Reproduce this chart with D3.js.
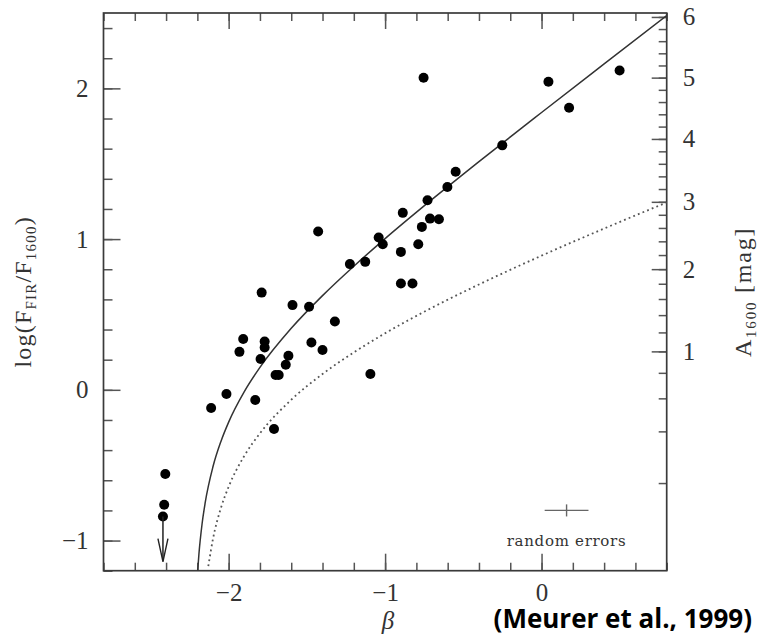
<!DOCTYPE html>
<html>
<head>
<meta charset="utf-8">
<script src="https://cdn.jsdelivr.net/npm/d3@7"></script>
<style>
body { margin: 0; background: #fff; }
</style>
</head>
<body>
<div id="chart"></div>
<script>
// observed galaxies: UV slope beta vs log(F_FIR/F_1600)
var obsBeta = [-2.405, -2.412, -2.112, -2.014, -1.931, -1.907, -1.830, -1.796, -1.789, -1.770, -1.770,
  -1.710, -1.700, -1.680, -1.635, -1.618, -1.592, -1.486, -1.471, -1.428, -1.400, -1.321, -1.225,
  -1.127, -1.094, -1.041, -1.015, -0.899, -0.899, -0.887, -0.825, -0.788, -0.765, -0.754, -0.729,
  -0.713, -0.656, -0.602, -0.549, -0.251, 0.044, 0.176, 0.499];
var obsIrx = [-0.558, -0.763, -0.121, -0.028, 0.252, 0.337, -0.068, 0.204, 0.645, 0.321, 0.281,
  -0.260, 0.098, 0.098, 0.166, 0.226, 0.562, 0.551, 0.314, 1.050, 0.264, 0.453, 0.834,
  0.849, 0.105, 1.010, 0.966, 0.915, 0.705, 1.174, 0.705, 0.966, 1.081, 2.070, 1.258,
  1.136, 1.132, 1.346, 1.447, 1.622, 2.044, 1.871, 2.119];

// upper limit point (arrow)
var limitBeta = [-2.420];
var limitIrx = [-0.841];

// fitted relation (solid)
var fitBeta = [-2.198, -2.19, -2.17, -2.15, -2.1, -2.05, -2.0, -1.9, -1.8, -1.6, -1.4, -1.2, -1.0, -0.7, -0.4, 0, 0.4, 0.8];
var fitIrx = [-1.201, -1.089, -0.890, -0.749, -0.509, -0.344, -0.214, -0.012, 0.149, 0.408, 0.625, 0.820, 1.003, 1.263, 1.514, 1.840, 2.162, 2.483];

// second relation (dotted)
var dotBeta = [-2.13, -2.1, -2.05, -2.0, -1.9, -1.8, -1.6, -1.4, -1.2, -1.0, -0.7, -0.4, 0, 0.4, 0.8];
var dotIrx = [-1.170, -0.988, -0.786, -0.643, -0.438, -0.289, -0.066, 0.105, 0.248, 0.375, 0.545, 0.699, 0.890, 1.070, 1.243];

// random errors marker
var errCenter = [0.16, -0.80];
var errSize = [0.14, 0.04];

// ticks
var xMajor = [-2, -1, 0];
var yMajor = [-1, 0, 1, 2];
var aMajor = [1, 2, 3, 4, 5, 6];

function drawChart() {

  var width = 763, height = 637;
  var pLeft = 103.5, pRight = 666.7, pTop = 13, pBottom = 570.7;

  var svg = d3.select("#chart").append("svg")
    .attr("width", width)
    .attr("height", height);

  var xScale = d3.scaleLinear().domain([-2.8, 0.8]).range([pLeft, pRight]);
  var yScale = d3.scaleLinear().domain([-1.2, 2.5]).range([pBottom, pTop]);

  // A_1600 (mag) -> log(F_FIR/F_1600)
  function aToIrx(a) { return Math.log10((Math.pow(10, 0.4 * a) - 1) * 1.19); }

  var xMinor = d3.range(-2.8, 0.81, 0.2).map(function(d) { return +d.toFixed(1); });
  var yMinor = d3.range(-1.2, 2.51, 0.2).map(function(d) { return +d.toFixed(1); });
  var aMinor = d3.range(0.2, 6.01, 0.2).map(function(d) { return +d.toFixed(1); });

  var tickCol = "#555", lineCol = "#3a3a3a";
  var serif = "'Liberation Serif', 'Times New Roman', serif";

  function styleAxis(g) {
    g.select(".domain").remove();
    g.selectAll("line").attr("stroke", tickCol).attr("stroke-width", 1.5);
    g.selectAll("text").attr("font-family", serif).attr("font-size", 25).attr("fill", "#333");
  }

  //Bottom axis
  svg.append("g").attr("transform", "translate(0," + pBottom + ")")
    .call(d3.axisBottom(xScale).tickValues(xMinor).tickSizeInner(-8).tickSizeOuter(0).tickFormat(""))
    .call(styleAxis);
  svg.append("g").attr("transform", "translate(0," + pBottom + ")")
    .call(d3.axisBottom(xScale).tickValues(xMajor).tickSizeInner(-17).tickSizeOuter(0).tickPadding(13).tickFormat(d3.format("d")))
    .call(styleAxis);

  //Top axis
  svg.append("g").attr("transform", "translate(0," + pTop + ")")
    .call(d3.axisTop(xScale).tickValues(xMinor).tickSizeInner(-8).tickSizeOuter(0).tickFormat(""))
    .call(styleAxis);
  svg.append("g").attr("transform", "translate(0," + pTop + ")")
    .call(d3.axisTop(xScale).tickValues(xMajor).tickSizeInner(-16).tickSizeOuter(0).tickFormat(""))
    .call(styleAxis);

  //Left axis
  svg.append("g").attr("transform", "translate(" + pLeft + ",0)")
    .call(d3.axisLeft(yScale).tickValues(yMinor).tickSizeInner(-9).tickSizeOuter(0).tickFormat(""))
    .call(styleAxis);
  svg.append("g").attr("transform", "translate(" + pLeft + ",0)")
    .call(d3.axisLeft(yScale).tickValues(yMajor).tickSizeInner(-17).tickSizeOuter(0).tickPadding(15).tickFormat(d3.format("d")))
    .call(styleAxis);

  //Right axis in A_1600
  svg.append("g").attr("transform", "translate(" + pRight + ",0)")
    .call(d3.axisRight(yScale).tickValues(aMinor.map(aToIrx)).tickSizeInner(-8).tickSizeOuter(0).tickFormat(""))
    .call(styleAxis);
  svg.append("g").attr("transform", "translate(" + pRight + ",0)")
    .call(d3.axisRight(yScale).tickValues(aMajor.map(aToIrx)).tickSizeInner(-15).tickSizeOuter(0).tickPadding(16)
      .tickFormat(function(d, i) { return aMajor[i]; }))
    .call(styleAxis);

  //Frame
  svg.append("rect")
    .attr("x", pLeft).attr("y", pTop)
    .attr("width", pRight - pLeft).attr("height", pBottom - pTop)
    .attr("fill", "none").attr("stroke", lineCol).attr("stroke-width", 1.7);

  svg.append("clipPath").attr("id", "plotclip")
    .append("rect").attr("x", pLeft).attr("y", pTop).attr("width", pRight - pLeft).attr("height", pBottom - pTop);

  var line = d3.line()
    .curve(d3.curveMonotoneX)
    .x(function(d) { return xScale(d[0]); })
    .y(function(d) { return yScale(d[1]); });

  svg.append("path")
    .datum(d3.zip(fitBeta, fitIrx))
    .attr("clip-path", "url(#plotclip)")
    .attr("d", line)
    .attr("fill", "none")
    .attr("stroke", "#333")
    .attr("stroke-width", 1.5);

  svg.append("path")
    .datum(d3.zip(dotBeta, dotIrx))
    .attr("clip-path", "url(#plotclip)")
    .attr("d", line)
    .attr("fill", "none")
    .attr("stroke", "#555")
    .attr("stroke-width", 1.8)
    .attr("stroke-dasharray", "1.8,3.2");

  //Points
  svg.append("g").selectAll("circle")
    .data(d3.zip(obsBeta, obsIrx).concat(d3.zip(limitBeta, limitIrx)))
    .enter().append("circle")
    .attr("cx", function(d) { return xScale(d[0]); })
    .attr("cy", function(d) { return yScale(d[1]); })
    .attr("r", 5)
    .attr("fill", "#000");

  //Upper limit arrow
  var arrows = svg.append("g").selectAll("g")
    .data(d3.zip(limitBeta, limitIrx))
    .enter().append("g")
    .attr("transform", function(d) { return "translate(" + xScale(d[0]) + "," + yScale(d[1]) + ")"; });
  arrows.append("line").attr("x1", 0).attr("y1", 0).attr("x2", 0).attr("y2", 45)
    .attr("stroke", "#222").attr("stroke-width", 1.5);
  arrows.append("path").attr("d", "M-5,22 L0,45 L5,22")
    .attr("fill", "none").attr("stroke", "#222").attr("stroke-width", 1.4);

  //Random errors
  var ex = xScale(errCenter[0]), ey = yScale(errCenter[1]);
  svg.append("line")
    .attr("x1", xScale(errCenter[0] - errSize[0])).attr("x2", xScale(errCenter[0] + errSize[0]))
    .attr("y1", ey).attr("y2", ey)
    .attr("stroke", "#666").attr("stroke-width", 1.4);
  svg.append("line")
    .attr("x1", ex).attr("x2", ex)
    .attr("y1", yScale(errCenter[1] - errSize[1])).attr("y2", yScale(errCenter[1] + errSize[1]))
    .attr("stroke", "#666").attr("stroke-width", 1.4);
  svg.append("text")
    .attr("x", ex).attr("y", ey + 36)
    .attr("text-anchor", "middle")
    .attr("font-family", "'DejaVu Serif', serif")
    .attr("font-size", 15)
    .attr("letter-spacing", 0.7)
    .attr("fill", "#333")
    .text("random errors");

  //Axis labels
  var ylab = svg.append("text")
    .attr("transform", "translate(31," + ((pTop + pBottom) / 2) + ") rotate(-90)")
    .attr("text-anchor", "middle")
    .attr("font-family", serif)
    .attr("font-size", 24)
    .attr("letter-spacing", 1.2)
    .attr("fill", "#333");
  ylab.append("tspan").text("log(F");
  ylab.append("tspan").attr("font-size", 15).attr("dy", 5).text("FIR");
  ylab.append("tspan").attr("dy", -5).text("/F");
  ylab.append("tspan").attr("font-size", 15).attr("dy", 5).text("1600");
  ylab.append("tspan").attr("dy", -5).text(")");

  var alab = svg.append("text")
    .attr("transform", "translate(751," + ((pTop + pBottom) / 2) + ") rotate(-90)")
    .attr("text-anchor", "middle")
    .attr("font-family", serif)
    .attr("font-size", 24)
    .attr("letter-spacing", 1.8)
    .attr("fill", "#333");
  alab.append("tspan").text("A");
  alab.append("tspan").attr("font-size", 15).attr("dy", 5).text("1600");
  alab.append("tspan").attr("dy", -5).text(" [mag]");

  svg.append("text")
    .attr("x", 388).attr("y", 629)
    .attr("text-anchor", "middle")
    .attr("font-family", serif)
    .attr("font-style", "italic")
    .attr("font-size", 25)
    .attr("fill", "#333")
    .text("β");

  svg.append("text")
    .attr("x", 752).attr("y", 628)
    .attr("text-anchor", "end")
    .attr("font-family", "'Open Sans', sans-serif")
    .attr("font-weight", "bold")
    .attr("font-size", 26)
    .attr("fill", "#000")
    .text("(Meurer et al., 1999)");
}

drawChart();
</script>
</body>
</html>
